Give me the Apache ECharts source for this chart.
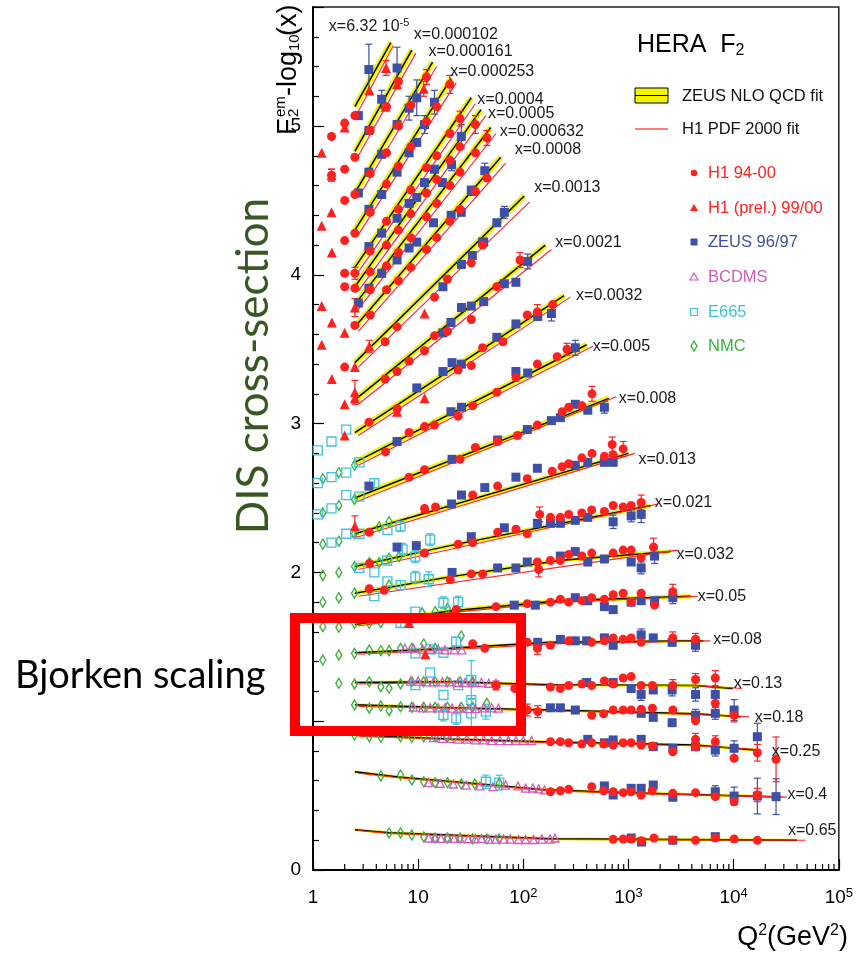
<!DOCTYPE html>
<html><head><meta charset="utf-8">
<script src="https://cdn.jsdelivr.net/npm/echarts@6/dist/echarts.min.js"></script>
<style>html,body{margin:0;padding:0;background:#fff;}#c{width:856px;height:958px;}</style>
</head><body><div id="c"></div>
<script>
// ---------- DATA ----------
const binX = ['6.32 10^-5','0.000102','0.000161','0.000253','0.0004','0.0005','0.000632','0.0008','0.0013','0.0021','0.0032','0.005','0.008','0.013','0.021','0.032','0.05','0.08','0.13','0.18','0.25','0.4','0.65'];

// ZEUS NLO QCD fit, per x bin: [Q2, F2-log10(x)]
const zeusFit = [
 [[2.5,5.13],[5.5,5.56]],
 [[2.5,4.83],[8.7,5.51]],
 [[2.5,4.55],[13.7,5.43]],
 [[2.5,4.30],[20.6,5.32]],
 [[2.5,4.05],[32,5.19]],
 [[2.5,3.92],[39.6,5.11]],
 [[2.5,3.80],[49,4.99]],
 [[2.5,3.65],[61,4.79]],
 [[2.5,3.41],[102,4.53]],
 [[2.5,3.16],[162,4.20]],
 [[2.5,2.94],[244,3.86]],
 [[2.5,2.74],[400,3.53]],
 [[2.5,2.50],[650,3.17]],
 [[2.5,2.26],[1000,2.80]],
 [[2.5,2.04],[20,2.18],[1630,2.45]],
 [[2.5,1.86],[20,1.97],[220,2.08],[2510,2.14]],
 [[2.5,1.65],[20,1.74],[220,1.81],[3900,1.84]],
 [[2.5,1.46],[20,1.49],[180,1.53],[5150,1.54]],
 [[2.5,1.26],[20,1.265],[180,1.245],[4300,1.24],[9800,1.22]],
 [[2.5,1.11],[20,1.09],[180,1.075],[4300,1.05],[11700,1.03]],
 [[2.5,0.907],[20,0.88],[180,0.86],[4300,0.84],[15900,0.806]],
 [[2.5,0.66],[6.5,0.625],[30,0.585],[160,0.54],[1000,0.52],[28500,0.49]],
 [[2.5,0.27],[5.3,0.25],[180,0.21],[40000,0.20]]
];

// H1 PDF 2000 fit, per x bin
const h1Fit = [
 [[2.7,5.10],[5.8,5.54]],
 [[2.7,4.80],[9.5,5.49]],
 [[2.7,4.52],[15,5.40]],
 [[2.7,4.27],[23,5.29]],
 [[2.7,4.02],[35,5.15]],
 [[2.7,3.89],[44,5.07]],
 [[2.7,3.77],[55,4.95]],
 [[2.7,3.62],[68,4.75]],
 [[2.7,3.38],[115,4.49]],
 [[2.7,3.13],[185,4.17]],
 [[2.7,2.92],[280,3.85]],
 [[2.7,2.72],[460,3.52]],
 [[2.7,2.48],[760,3.18]],
 [[2.7,2.24],[1150,2.80]],
 [[2.7,2.02],[1900,2.46]],
 [[2.7,1.84],[2900,2.15]],
 [[2.7,1.64],[20,1.73],[220,1.80],[4600,1.84]],
 [[2.7,1.45],[20,1.48],[180,1.52],[6000,1.54]],
 [[2.7,1.25],[20,1.26],[180,1.24],[4300,1.24],[12000,1.22]],
 [[2.7,1.10],[20,1.085],[180,1.07],[4300,1.045],[14000,1.03]],
 [[2.7,0.90],[20,0.875],[180,0.855],[4300,0.835],[17500,0.81]],
 [[2.7,0.65],[6.5,0.62],[30,0.58],[160,0.535],[1000,0.515],[32000,0.49]],
 [[2.7,0.265],[5.3,0.245],[180,0.205],[48000,0.20]]
];

// Data points: [Q2, F2-log10(x), error]
const h1Points = [
 [1.5,4.93,0],[1.5,4.67,0.04],
 [2.0,5.02,0],[2.0,4.71,0],[2.0,4.50,0],[2.0,4.23,0],[2.0,4.01,0],[2.0,3.92,0],[2.0,3.38,0],
 [2.5,5.07,0],[2.5,4.79,0],[2.5,4.54,0],[2.5,4.28,0],[2.5,4.01,0.04],[2.5,3.91,0],[2.5,3.66,0],
 [3.5,4.97,0],[5.0,5.13,0],[6.5,5.30,0],
 [3.5,4.68,0],[5.0,4.82,0],[6.5,5.00,0],[8.5,5.14,0],[12,5.33,0.05],
 [3.5,4.42,0],[5.0,4.61,0],[6.5,4.73,0],[8.5,4.86,0],[12,5.03,0],[15,5.13,0],[20,5.28,0.06],
 [3.5,4.16,0],[5.0,4.36,0],[6.5,4.44,0],[8.5,4.57,0],[12,4.72,0],[15,4.80,0],[20,4.95,0],[25,5.05,0.05],
 [3.5,4.02,0],[5.0,4.20,0],[6.5,4.30,0],[8.5,4.41,0],[12,4.55,0],[15,4.64,0],[20,4.77,0],[25,4.86,0],[35,5.01,0.06],
 [3.5,3.90,0],[5.0,4.06,0],[6.5,4.15,0],[8.5,4.25,0],[12,4.39,0],[15,4.48,0],[20,4.60,0],[25,4.69,0],[35,4.82,0],[45,4.92,0.05],
 [3.5,3.73,0],[5.0,3.90,0],[6.5,3.96,0],[8.5,4.05,0],[12,4.17,0],[15,4.25,0],[20,4.36,0],[25,4.44,0],[35,4.56,0],[45,4.65,0],
 [4.85,3.55,0],[6.3,3.65,0],[14.3,3.85,0],[19,3.97,0],[32,4.08,0],[41,4.20,0],
 [4.85,3.30,0],[6.3,3.35,0],[8.2,3.42,0],[11.5,3.49,0],[14.3,3.59,0],[19,3.62,0],[32,3.70,0],[56,3.92,0],[93,4.10,0.05],
 [3.4,3.01,0],[6.3,3.10,0],[24,3.36,0],[32,3.39,0],[41,3.51,0],[64,3.55,0],[109,3.73,0],[136,3.75,0.05],[190,3.80,0],
 [4.9,2.81,0],[8.2,2.94,0],[11.5,2.98,0],[14.3,2.99,0],[24,3.05,0],[33,3.12,0],[56,3.21,0],[85,3.31,0],[136,3.40,0],[210,3.45,0],[260,3.50,0.04],
 [8.2,2.64,0],[11.5,2.69,0],[25,2.76,0],[35,2.84,0],[57,2.88,0],[88,2.92,0],[136,2.99,0],[234,3.08,0],[270,3.11,0],[360,3.12,0],[450,3.20,0.05],
 [3.43,2.27,0],[11.5,2.43,0],[14.6,2.44,0],[33,2.52,0],[57,2.58,0],[109,2.63,0],[188,2.68,0],[234,2.71,0],[270,2.73,0],[360,2.77,0],[450,2.80,0],[590,2.78,0],[715,2.79,0],[700,2.86,0.05],[890,2.83,0.05],
 [3.45,2.06,0],[11.5,2.13,0],[24,2.19,0],[33,2.20,0],[57,2.27,0],[85,2.29,0],[109,2.26,0],[143,2.39,0.05],[181,2.37,0],[225,2.37,0],[270,2.39,0],[360,2.40,0],[447,2.42,0],[590,2.41,0],[715,2.45,0],[890,2.44,0],[1060,2.45,0],[1320,2.47,0.05],
 [3.43,1.89,0],[4.75,1.88,0],[20.2,1.95,0],[32,1.99,0],[41,1.99,0],[136,2.07,0],[140,2.02,0.05],[181,2.08,0],[225,2.08,0],[270,2.12,0],[360,2.11,0],[447,2.13,0],[715,2.13,0],[890,2.15,0],[1060,2.15,0],[1320,2.10,0],[1730,2.17,0.06],
 [23,1.75,0],[55,1.77,0],[109,1.79,0],[181,1.80,0],[225,1.82,0],[270,1.80,0],[360,1.81,0],[447,1.83,0],[590,1.82,0],[715,1.85,0],[890,1.86,0],[1060,1.80,0],[1320,1.86,0],[1770,1.78,0],[2640,1.87,0.05],
 [33,1.52,0],[43,1.49,0],[109,1.53,0],[136,1.49,0.04],[181,1.51,0],[270,1.54,0],[447,1.53,0],[590,1.54,0],[715,1.56,0],[890,1.55,0],[1060,1.56,0],[1320,1.53,0],[2640,1.56,0.04],[4340,1.55,0.04],
 [55,1.24,0.03],[83,1.22,0],[181,1.23,0],[225,1.22,0],[270,1.24,0],[360,1.25,0],[447,1.24,0],[590,1.27,0],[715,1.25,0],[890,1.29,0],[1060,1.30,0],[1320,1.24,0],[1690,1.24,0],[2640,1.24,0.04],[4340,1.28,0.04],[6690,1.29,0.05],
 [109,1.075,0.04],[137,1.064,0.04],[447,1.04,0],[580,1.05,0],[715,1.075,0],[890,1.075,0],[1060,1.075,0],[1320,1.08,0],[1690,1.087,0],[2640,1.075,0],[4340,1.003,0],[6690,1.12,0.05],[10100,1.04,0.045],
 [181,0.862,0],[225,0.862,0],[270,0.855,0],[360,0.847,0],[447,0.855,0],[580,0.847,0],[715,0.84,0],[890,0.855,0],[1060,0.855,0],[1320,0.84,0],[1690,0.833,0],[2640,0.795,0],[4340,0.878,0.04],[4340,0.829,0],[6690,0.862,0.04],[10100,0.751,0],[16800,0.788,0.056],[25300,0.744,0.15],
 [181,0.526,0],[225,0.533,0],[270,0.542,0],[447,0.56,0],[580,0.533,0],[715,0.526,0],[890,0.52,0],[1060,0.526,0],[1320,0.504,0],[1680,0.533,0],[2640,0.515,0],[4340,0.52,0],[6690,0.493,0],[10100,0.459,0],[16800,0.504,0.045],
 [715,0.206,0],[890,0.208,0],[1060,0.208,0],[1320,0.197,0],[1750,0.215,0],[2620,0.20,0],[4340,0.20,0],[6690,0.215,0],[10100,0.208,0],[16800,0.20,0]
];

const h1PrelPoints = [
 [1.21,4.82,0],[1.5,4.67,0.04],[2.0,4.99,0],[1.21,4.33,0],[1.5,4.42,0],[3.43,5.24,0],[4.95,5.39,0.05],[6.3,5.28,0],[11.3,5.25,0.05],[4.9,5.13,0],
 [1.51,4.15,0],[1.21,3.79,0],[1.51,3.68,0],[1.21,3.53,0],[2.0,3.61,0],[1.51,3.30,0],[2.5,3.78,0.06],[2.5,3.38,0],[2.5,3.21,0.08],[3.43,3.52,0.04],
 [11.5,3.74,0],[2.0,3.13,0],[2.0,2.92,0],[2.5,3.17,0],[6.3,3.08,0],[11.5,3.17,0],
 [2.5,2.31,0.07],[11.7,2.43,0],[8.2,1.66,0],[11.7,1.45,0]
];

const zeusPoints = [
 [2.7,5.07,0],[3.4,5.38,0.17],[3.4,4.97,0],[4.5,5.18,0.06],[6.3,5.39,0.14],[4.5,4.81,0],[6.3,5.01,0],[8.2,5.12,0.08],[9.7,5.19,0.12],[11.5,5.01,0.06],[14.3,5.16,0.08],
 [3.4,4.69,0],[3.4,4.44,0],[4.5,4.54,0],[6.3,4.69,0],[8.2,4.82,0],[9.7,4.89,0],[14.3,4.71,0],[20.8,4.74,0.04],[25.7,4.93,0.08],[43,4.70,0.05],
 [3.4,4.19,0],[8.2,4.48,0],[11.5,4.62,0],[17,4.62,0],[33,4.56,0],[25.7,4.42,0],[42,4.22,0],
 [2.7,4.55,0],[4.5,4.28,0],[6.3,4.38,0],[9.7,4.52,0],[4.5,4.01,0],[6.3,4.10,0],[8.2,4.18,0],[9.7,4.22,0],[14,4.35,0],[20.6,4.40,0],[32,4.57,0],[2.7,3.81,0],[3.4,3.91,0],
 [17.2,3.92,0],[25.8,4.07,0],[32.7,4.13,0],[41,4.22,0],[56,4.35,0],[66,4.42,0.04],
 [17.2,3.61,0],[20.5,3.68,0],[25.8,3.78,0],[32,3.79,0],[42,3.82,0],[66,3.94,0],[85,3.95,0],[110,4.09,0.05],
 [9.7,3.24,0],[17.2,3.35,0],[21,3.41,0],[25.8,3.40,0],[56,3.58,0],[85,3.67,0],[137,3.72,0],[185,3.74,0.05],
 [6.3,2.88,0],[20.5,3.08,0],[25.8,3.11,0],[85,3.35,0],[110,3.34,0],[312,3.51,0.05],
 [3.4,2.58,0],[21,2.76,0],[57,2.89,0],[109,2.96,0],[185,3.02,0],[225,3.04,0],[312,3.13,0],[410,3.09,0],[590,3.11,0.04],
 [20.8,2.46,0],[25.8,2.52,0],[43,2.57,0],[85,2.64,0],[136,2.70,0],[312,2.72,0],[410,2.74,0],[590,2.74,0],[715,2.74,0],
 [6.3,2.17,0],[9.6,2.18,0],[32,2.24,0],[66,2.30,0],[136,2.33,0],[181,2.33,0],[225,2.33,0],[312,2.35,0],[410,2.37,0],[715,2.34,0.045],[1060,2.38,0.04],[1320,2.39,0.055],
 [21,2.00,0],[57,2.03,0],[85,2.03,0],[109,2.07,0],[225,2.11,0],[312,2.14,0],[410,2.07,0],[590,2.09,0],[1060,2.07,0],[1320,2.03,0.04],[1770,2.11,0.05],
 [82,1.78,0],[130,1.78,0],[312,1.83,0],[410,1.81,0],[590,1.77,0],[715,1.75,0],[1060,1.80,0],[1320,1.81,0],[1770,1.81,0],[2640,1.83,0.04],
 [137,1.53,0],[225,1.55,0],[312,1.54,0],[400,1.54,0],[590,1.56,0],[715,1.51,0],[1320,1.58,0.04],[1720,1.56,0],[2600,1.53,0],[4340,1.51,0.04],
 [400,1.26,0],[715,1.26,0],[1060,1.22,0],[1320,1.18,0.04],[1720,1.21,0],[2600,1.21,0.04],[4340,1.18,0.045],[6690,1.18,0.045],
 [181,1.09,0],[225,1.09,0],[312,1.075,0],[1320,1.053,0],[1720,1.026,0],[2600,0.99,0],[4340,1.04,0.04],[6690,1.053,0.04],[10100,1.075,0.07],
 [410,0.878,0],[590,0.855,0],[715,0.874,0],[1320,0.878,0],[1720,0.829,0],[2640,0.818,0],[4340,0.829,0],[6690,0.806,0.04],[10100,0.818,0.05],[16800,0.896,0.09],
 [590,0.565,0],[715,0.504,0],[1060,0.549,0],[1320,0.549,0],[1720,0.571,0],[2640,0.489,0],[6690,0.526,0.04],[10100,0.497,0.06],[16800,0.497,0.12],[25300,0.493,0.12],
 [1060,0.215,0],[1330,0.188,0],[2640,0.20,0],[6690,0.224,0]
];

const bcdmsPoints = [
 [7.5,1.49,0],[9,1.49,0],[11,1.485,0],[13,1.485,0],[15.5,1.485,0],[18,1.48,0],[22,1.48,0],[26,1.48,0],
 [8.5,1.27,0],[10,1.27,0],[12,1.265,0],[14,1.265,0],[17,1.265,0],[20,1.265,0],[24,1.26,0],[28,1.26,0],[33,1.26,0],[40,1.26,0],[47,1.255,0],[55,1.255,0],
 [9,1.095,0],[11,1.09,0],[13,1.09,0],[15.5,1.09,0],[18,1.09,0],[21,1.088,0],[25,1.088,0],[30,1.085,0],[35,1.085,0],[42,1.09,0],[50,1.09,0],[58,1.088,0],
 [14,0.89,0],[17,0.885,0],[20,0.885,0],[24,0.88,0],[29,0.88,0],[35,0.875,0],[42,0.875,0],[50,0.87,0],[60,0.87,0],[72,0.87,0],[85,0.87,0],[100,0.87,0],[120,0.87,0],
 [12.6,0.587,0],[16.2,0.583,0],[21.6,0.578,0],[28.6,0.571,0],[38.6,0.565,0],[51.4,0.56,0],[68,0.571,0],[89,0.565,0],[105,0.55,0],[123,0.551,0],[140,0.545,0],[159,0.538,0],
 [12.6,0.215,0],[14.5,0.215,0],[16.5,0.212,0],[19,0.215,0],[22,0.212,0],[25,0.212,0],[30,0.21,0],[35,0.21,0],[40,0.212,0],[47,0.208,0],[55,0.208,0],[65,0.208,0],[75,0.208,0],[90,0.205,0],[105,0.205,0],[125,0.205,0],[150,0.208,0],[180,0.208,0],[200,0.215,0]
];

const e665Points = [
 [1.11,2.82,0],[1.5,2.88,0],[2.07,2.96,0],[1.11,2.60,0],[1.5,2.64,0],[2.07,2.67,0],[1.11,2.39,0],[1.5,2.43,0],[2.07,2.52,0],[2.07,2.26,0],[1.5,2.20,0],
 [2.76,2.74,0],[2.76,2.51,0],[2.76,2.26,0],[2.76,2.03,0],[3.83,2.60,0.03],[3.83,2.00,0],[5.07,2.08,0],[7.1,2.155,0.04],[9.4,2.106,0.04],[13,2.22,0.04],[5.1,2.285,0],[6.8,2.31,0.035],
 [5.1,1.94,0],[6.8,1.915,0.03],[9.4,1.967,0.04],[12.6,1.954,0.05],[3.83,1.84,0],[17.4,1.796,0.04],
 [6.8,1.66,0.03],[9.4,1.736,0],[24,1.80,0.04],
 [9.4,1.456,0],[13,1.483,0],[17.4,1.46,0],[23,1.534,0.03],
 [9.4,1.243,0],[13,1.326,0],[17.4,1.176,0],[24,1.243,0],[32,1.277,0.13],
 [17.4,1.042,0.04],[23,1.019,0.04],[32,1.053,0.1],[32,1.142,0],[44,1.064,0.05],
 [44,0.593,0.045],[59,0.587,0.05]
];

const nmcPoints = [
 [1.24,2.63,0],[1.76,2.67,0],[1.24,2.40,0],[1.76,2.45,0],[1.24,2.19,0],[1.76,2.21,0],[1.24,1.98,0],[1.76,2.00,0],[1.24,1.80,0],[1.76,1.83,0],
 [2.48,2.72,0],[2.48,2.49,0],[2.48,2.26,0],[2.48,2.04,0],[2.48,1.86,0],[3.43,1.88,0],[5.29,1.915,0],[4.26,2.065,0],[5.29,2.095,0],[6.57,2.106,0],[4.26,2.307,0],[5.29,2.341,0],[3.43,2.065,0],
 [1.24,1.635,0],[1.76,1.631,0],[2.48,1.658,0],[3.43,1.658,0],[4.42,1.662,0],[10.9,1.729,0],[14.5,1.736,0],[19,1.759,0],
 [1.24,1.411,0],[1.76,1.445,0],[2.48,1.456,0],[3.43,1.478,0],[4.42,1.474,0],[5.29,1.474,0],[6.8,1.49,0],[8.7,1.49,0],[11.3,1.519,0],[14.5,1.49,0],[25.7,1.573,0],
 [1.76,1.255,0],[2.48,1.25,0],[3.43,1.265,0],[4.42,1.232,0],[5.29,1.221,0],[6.8,1.25,0],[8.7,1.265,0],[11.3,1.265,0],[14.5,1.265,0],[19,1.265,0],[25,1.265,0],[33,1.265,0],
 [2.48,1.109,0],[3.43,1.087,0],[4.42,1.102,0],[5.29,1.071,0],[6.8,1.097,0],[8.7,1.093,0],[11.3,1.093,0],[14.5,1.093,0],[19,1.093,0],[25.7,1.093,0],[33,1.093,0],[45,1.12,0],
 [2.48,0.907,0],[3.43,0.896,0],[4.42,0.892,0],[6.8,0.896,0],[8.7,0.892,0],[11.3,0.896,0],[14.5,0.896,0],[19,0.896,0],
 [4.42,0.632,0],[6.8,0.638,0],[8.7,0.605,0],[11.3,0.593,0],[14.5,0.587,0],[19,0.587,0],[25.7,0.578,0],[34.5,0.578,0],[59,0.583,0],
 [5.3,0.249,0],[6.8,0.249,0],[8.7,0.235,0],[11.3,0.222,0],[14.5,0.215,0],[19,0.215,0],[25,0.215,0],[33,0.208,0],[45,0.208,0],[59,0.208,0]
];

const yTicks = [0,1,2,3,4,5];
const xDecades = [1,10,100,1000,10000,100000];

// ---------- LAYOUT / STYLE ----------
const labelOffsets = [[-62,-16],[2,-16],[-4,-10],[-1,-7],[6,2],[7,4],[9,4],[14,-8],[10,-8],[10,-2],[12,0],[6,2],[10,0],[10,6],[4,-3],[6,3],[7,0],[10,-1],[1,-5],[14,1],[17,2],[6,-2],[-9,-10]];
const FONT = "'Liberation Sans', Arial, Helvetica, sans-serif";
const RED = '#ff2020', BLUE = '#3d4fa6', MAG = '#d25abd', CYAN = '#3fc2de', GREEN = '#38b238';

const chart = echarts.init(document.getElementById('c'), null, {renderer: 'canvas'});
const series = [];

zeusFit.forEach((pts, i) => {
  const bw = i < 13 ? 6 : (i < 17 ? 4.5 : 3);
  series.push({type: 'line', data: pts, symbol: 'none', silent: true, z: 1,
    lineStyle: {color: '#f4f400', width: bw, cap: 'butt'}});
});
zeusFit.forEach(pts => series.push({type: 'line', data: pts, symbol: 'none', silent: true, z: 2,
  lineStyle: {color: '#000', width: 1.5}}));
h1Fit.forEach(pts => series.push({type: 'line', data: pts, symbol: 'none', silent: true, z: 3,
  lineStyle: {color: RED, width: 1.1}}));

function addData(pts, symbol, size, fill, stroke, bw) {
  const errs = pts.filter(p => p[2] > 0);
  if (errs.length) {
    series.push({type: 'custom', data: errs, z: 4, silent: true, encode: {x: 0, y: 1},
      renderItem: (params, api) => {
        const q = api.value(0), v = api.value(1), e = api.value(2);
        const t = api.coord([q, v + e]), b = api.coord([q, v - e]);
        const st = {stroke: stroke, lineWidth: 1.2};
        return {type: 'group', children: [
          {type: 'line', shape: {x1: t[0], y1: t[1], x2: b[0], y2: b[1]}, style: st},
          {type: 'line', shape: {x1: t[0] - 3.5, y1: t[1], x2: t[0] + 3.5, y2: t[1]}, style: st},
          {type: 'line', shape: {x1: b[0] - 3.5, y1: b[1], x2: b[0] + 3.5, y2: b[1]}, style: st}
        ]};
      }});
  }
  series.push({type: 'scatter', data: pts.map(p => [p[0], p[1]]), symbol: symbol, symbolSize: size, z: 5, silent: true,
    itemStyle: {color: fill, borderColor: stroke, borderWidth: bw, opacity: 1}});
}
addData(nmcPoints, 'diamond', [6, 10], 'rgba(255,255,255,0)', GREEN, 1.4);
addData(e665Points, 'rect', 9, 'rgba(255,255,255,0)', CYAN, 1.3);
addData(bcdmsPoints, 'triangle', 8, 'rgba(255,255,255,0)', MAG, 1.3);
addData(zeusPoints, 'rect', 9, BLUE, BLUE, 0);
addData(h1PrelPoints, 'triangle', 10, RED, RED, 0);
addData(h1Points, 'circle', 9, RED, RED, 0);

// minor log ticks on x axis (2..9 per decade)
const minorTicks = [];
for (let d = 0; d < 5; d++) for (let m = 2; m <= 9; m++) minorTicks.push([m * Math.pow(10, d), 0]);
series.push({type: 'custom', data: minorTicks, z: 6, silent: true, clip: false, encode: {x: 0, y: 1},
  renderItem: (params, api) => {
    const c = api.coord([api.value(0), 0]);
    return {type: 'line', shape: {x1: c[0], y1: c[1], x2: c[0], y2: c[1] - 6}, style: {stroke: '#000', lineWidth: 1.2}};
  }});

// bin labels placed at the end of each fit curve
function labelText(s) {
  const k = s.indexOf('^');
  return k < 0 ? 'x=' + s : 'x=' + s.slice(0, k) + '{s|' + s.slice(k + 1) + '}';
}
series.push({type: 'custom', z: 7, silent: true, clip: false, encode: {x: 0, y: 1},
  data: zeusFit.map((pts, i) => [pts[pts.length - 1][0], pts[pts.length - 1][1], i]),
  renderItem: (params, api) => {
    const i = api.value(2);
    const c = api.coord([api.value(0), api.value(1)]);
    const o = labelOffsets[i];
    return {type: 'text', x: c[0] + o[0], y: c[1] + o[1],
      style: {text: labelText(binX[i]), fill: '#1a1a1a', font: '16px ' + FONT, fontSize: 16, fontFamily: FONT,
        align: 'left', verticalAlign: 'middle', lineHeight: 18,
        rich: {s: {fontSize: 11, fontFamily: FONT, fill: '#1a1a1a', verticalAlign: 'top', lineHeight: 9}}}};
  }});

// ---------- graphic ----------
const LX = 694, TX = 708;
const legendRows = [
  {t: 'H1 94-00', c: RED, y: 173},
  {t: 'H1 (prel.) 99/00', c: RED, y: 208},
  {t: 'ZEUS 96/97', c: BLUE, y: 242},
  {t: 'BCDMS', c: MAG, y: 277},
  {t: 'E665', c: CYAN, y: 312},
  {t: 'NMC', c: GREEN, y: 346}
];
const graphic = [];
function gtext(x, y, text, font, fill) {
  return {type: 'text', x: x, y: y, z: 50,
    style: {text: text, font: font, fill: fill, align: 'left', verticalAlign: 'middle'}};
}
graphic.push({type: 'text', x: 637, y: 45, z: 50, style: {text: '{m|HERA  F}{s|2}', fill: '#000', align: 'left', verticalAlign: 'middle',
  rich: {m: {fontSize: 25, fontFamily: FONT, fill: '#000', lineHeight: 28}, s: {fontSize: 16, fontFamily: FONT, fill: '#000', verticalAlign: 'bottom', lineHeight: 10}}}});
graphic.push({type: 'rect', z: 50, shape: {x: 635, y: 88, width: 33, height: 15}, style: {fill: '#f4f400', stroke: '#000', lineWidth: 1}});
graphic.push({type: 'line', z: 51, shape: {x1: 635, y1: 95.5, x2: 668, y2: 95.5}, style: {stroke: '#000', lineWidth: 1.2}});
graphic.push(gtext(682, 96, 'ZEUS NLO QCD fit', '16.5px ' + FONT, '#111'));
graphic.push({type: 'line', z: 50, shape: {x1: 635, y1: 129, x2: 668, y2: 129}, style: {stroke: '#ff5050', lineWidth: 1.3}});
graphic.push(gtext(682, 129, 'H1 PDF 2000 fit', '16.5px ' + FONT, '#111'));
graphic.push({type: 'circle', z: 50, shape: {cx: LX, cy: 173, r: 3.3}, style: {fill: RED}});
graphic.push({type: 'polygon', z: 50, shape: {points: [[LX, 204], [LX - 4, 211], [LX + 4, 211]]}, style: {fill: RED}});
graphic.push({type: 'rect', z: 50, shape: {x: LX - 3.5, y: 238.5, width: 7, height: 7}, style: {fill: BLUE}});
graphic.push({type: 'polygon', z: 50, shape: {points: [[LX, 273], [LX - 4, 280], [LX + 4, 280]]}, style: {fill: 'none', stroke: MAG, lineWidth: 1.2}});
graphic.push({type: 'rect', z: 50, shape: {x: LX - 3.5, y: 308.5, width: 7, height: 7}, style: {fill: 'none', stroke: CYAN, lineWidth: 1.2}});
graphic.push({type: 'polygon', z: 50, shape: {points: [[LX, 341], [LX + 3, 346], [LX, 351], [LX - 3, 346]]}, style: {fill: 'none', stroke: GREEN, lineWidth: 1.4}});
legendRows.forEach(r => graphic.push(gtext(TX, r.y, r.t, '16.5px ' + FONT, r.c)));

// y-axis title F2^em - log10(x), rotated
graphic.push({type: 'group', x: 298, y: 135, rotation: Math.PI / 2, z: 50, children: [
  {type: 'text', x: 0, y: -9.7, style: {text: 'F', font: '27px ' + FONT, fill: '#000', align: 'left', verticalAlign: 'middle'}},
  {type: 'text', x: 18, y: -17.5, style: {text: 'em', font: '15px ' + FONT, fill: '#000', align: 'left', verticalAlign: 'middle'}},
  {type: 'text', x: 18, y: -3.8, style: {text: '2', font: '15px ' + FONT, fill: '#000', align: 'left', verticalAlign: 'middle'}},
  {type: 'text', x: 39, y: -9.7, style: {text: '-log', font: '27px ' + FONT, fill: '#000', align: 'left', verticalAlign: 'middle'}},
  {type: 'text', x: 84, y: -3.2, style: {text: '10', font: '15px ' + FONT, fill: '#000', align: 'left', verticalAlign: 'middle'}},
  {type: 'text', x: 99, y: -9.7, style: {text: '(x)', font: '27px ' + FONT, fill: '#000', align: 'left', verticalAlign: 'middle'}}
]});

// x-axis title
graphic.push({type: 'text', x: 848, y: 938, z: 50, style: {text: '{m|Q}{s|2}{m|(GeV}{s|2}{m|)}', align: 'right', verticalAlign: 'middle',
  rich: {m: {fontSize: 27, fontFamily: FONT, fill: '#000', lineHeight: 30}, s: {fontSize: 16, fontFamily: FONT, fill: '#000', verticalAlign: 'top', lineHeight: 14}}}});

// annotations
graphic.push({type: 'text', x: 254, y: 366, rotation: Math.PI / 2, z: 50,
  style: {text: 'DIS cross-section', font: '44px Lato, "Open Sans", sans-serif', fill: '#385723', align: 'center', verticalAlign: 'middle'}});
graphic.push({type: 'text', x: 15, y: 676, z: 50,
  style: {text: 'Bjorken scaling', font: '38px Lato, "Open Sans", sans-serif', fill: '#000', align: 'left', verticalAlign: 'middle'}});
graphic.push({type: 'rect', z: 100, shape: {x: 295, y: 618, width: 226, height: 113}, style: {fill: 'none', stroke: '#ff0000', lineWidth: 10}});

chart.setOption({
  animation: false,
  backgroundColor: '#fff',
  grid: {left: 313, right: 11, top: 7, bottom: 88, show: true, borderColor: '#222', borderWidth: 1.5, backgroundColor: 'rgba(0,0,0,0)'},
  xAxis: {type: 'log', logBase: 10, min: xDecades[0], max: xDecades[xDecades.length - 1], splitNumber: 5,
    axisLine: {show: true, lineStyle: {color: '#000', width: 2}},
    axisTick: {show: true, inside: true, length: 11, lineStyle: {color: '#000', width: 1.2}},
    minorTick: {show: false}, splitLine: {show: false},
    axisLabel: {margin: 17, fontSize: 19, fontFamily: FONT, color: '#000', lineHeight: 22,
      formatter: v => { const e = Math.round(Math.log10(v)); if (e === 0) return '1'; if (e === 1) return '10'; return '10{s|' + e + '}'; },
      rich: {s: {fontSize: 13, fontFamily: FONT, color: '#000', verticalAlign: 'top', lineHeight: 10}}}},
  yAxis: {type: 'value', min: yTicks[0], max: 5.8, interval: 1,
    axisLine: {show: true, lineStyle: {color: '#000', width: 2}},
    axisTick: {show: true, inside: true, length: 11, lineStyle: {color: '#000', width: 1.2}},
    minorTick: {show: true, splitNumber: 5, length: 6, lineStyle: {color: '#000', width: 1.2}},
    splitLine: {show: false}, minorSplitLine: {show: false},
    axisLabel: {margin: 12, fontSize: 19, fontFamily: FONT, color: '#000', showMaxLabel: false,
      formatter: v => (yTicks.indexOf(v) >= 0 ? String(v) : '')}},
  series: series,
  graphic: {elements: graphic}
});
</script>
</body></html>
